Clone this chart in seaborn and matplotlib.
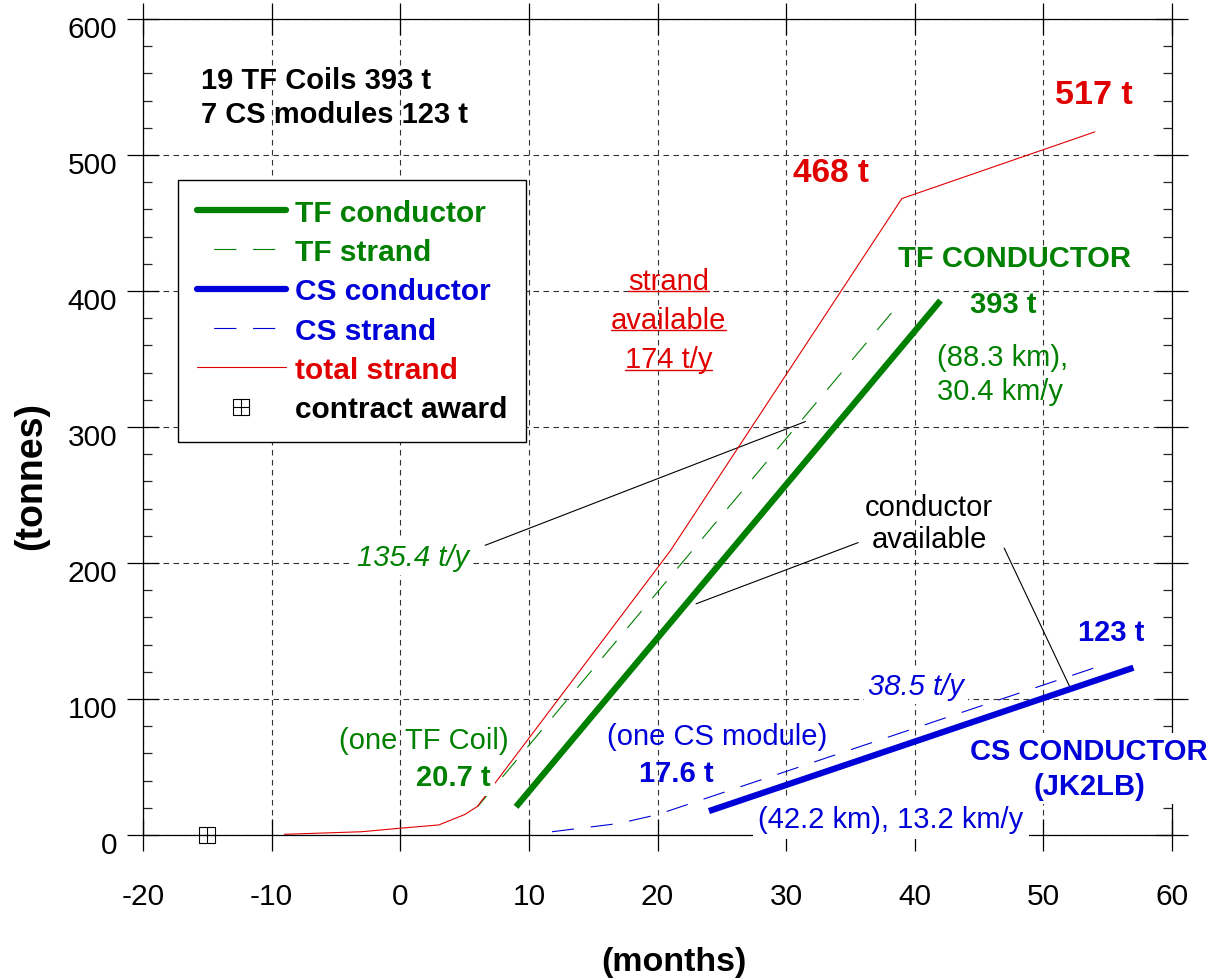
import numpy as np
import pandas as pd
import matplotlib
matplotlib.use("Agg")
import matplotlib.pyplot as plt
import matplotlib.transforms as mtransforms
from matplotlib.path import Path
from matplotlib.lines import Line2D
from matplotlib.ticker import MultipleLocator
import seaborn as sns

# ---------------- data ----------------
tf_conductor_months = [9, 42]
tf_conductor_tonnes = [20.7, 393]

tf_strand_months = [6, 39]
tf_strand_tonnes = [20.7, 393]

cs_conductor_months = [24, 57]
cs_conductor_tonnes = [17.6, 123]

cs_strand_months = [11.8, 17, 20, 54]
cs_strand_tonnes = [2.4, 8.5, 15, 123]

total_strand_months = [-9, -3, 0, 3, 5, 6, 21, 39, 54]
total_strand_tonnes = [0.5, 2.4, 5, 7.4, 15, 21, 209, 468, 517]

contract_award_months = [-15]
contract_award_tonnes = [0]

x_ticks = [-20, -10, 0, 10, 20, 30, 40, 50, 60]
y_ticks = [0, 100, 200, 300, 400, 500, 600]

series_labels = ["TF conductor", "TF strand", "CS conductor", "CS strand",
                 "total strand", "contract award"]

# leader lines of the annotations (text end -> pointed place)
leader_from = [(6.6, 213), (23.0, 170), (46.95, 211)]
leader_to = [(31.5, 304), (35.6, 215), (52.1, 108)]

# ---------------- style ----------------
GREEN = "#008000"
BLUE = "#0000d8"
RED = "#e00000"

sns.set_style("white")
plt.rcParams["font.family"] = ["Liberation Sans", "DejaVu Sans"]
plt.rcParams["axes.linewidth"] = 0.9
plt.rcParams["axes.unicode_minus"] = False

fig = plt.figure(figsize=(12.16, 9.79), dpi=100)
ax = fig.add_axes([143 / 1216, 1 - 836 / 979, (1172 - 143) / 1216, (836 - 20) / 979])

plot_dash = (0, (20, 15))
legend_dash = (20, (20, 15))
thick = 4.5
thin = 0.8

df_tfc = pd.DataFrame({"m": tf_conductor_months, "t": tf_conductor_tonnes})
df_tfs = pd.DataFrame({"m": tf_strand_months, "t": tf_strand_tonnes})
df_csc = pd.DataFrame({"m": cs_conductor_months, "t": cs_conductor_tonnes})
df_css = pd.DataFrame({"m": cs_strand_months, "t": cs_strand_tonnes})
df_tot = pd.DataFrame({"m": total_strand_months, "t": total_strand_tonnes})

sns.lineplot(data=df_tfs, x="m", y="t", ax=ax, color=GREEN, linewidth=thin,
             linestyle=plot_dash, sort=False, zorder=2.2)
sns.lineplot(data=df_css, x="m", y="t", ax=ax, color=BLUE, linewidth=thin,
             linestyle=plot_dash, sort=False, zorder=2.2)
sns.lineplot(data=df_tot, x="m", y="t", ax=ax, color=RED, linewidth=thin,
             sort=False, zorder=2.3)
sns.lineplot(data=df_tfc, x="m", y="t", ax=ax, color=GREEN, linewidth=thick,
             sort=False, zorder=2.4, solid_capstyle="butt")
sns.lineplot(data=df_csc, x="m", y="t", ax=ax, color=BLUE, linewidth=thick,
             sort=False, zorder=2.4, solid_capstyle="butt")

# box-plus marker glyph
boxplus = Path(
    [(-1, -1), (1, -1), (1, 1), (-1, 1), (-1, -1),
     (0, -1), (0, 1), (-1, 0), (1, 0)],
    [Path.MOVETO, Path.LINETO, Path.LINETO, Path.LINETO, Path.CLOSEPOLY,
     Path.MOVETO, Path.LINETO, Path.MOVETO, Path.LINETO])
ax.plot(contract_award_months, contract_award_tonnes, linestyle="none",
        marker=boxplus, markersize=11, markerfacecolor="none",
        markeredgecolor="black", markeredgewidth=0.8, zorder=2.5, clip_on=False)

# ---------------- axes ----------------
ax.set_xlim(-20, 60)
ax.set_ylim(0, 600)
ax.set_xticks(x_ticks)
ax.set_yticks(y_ticks)
ax.yaxis.set_minor_locator(MultipleLocator(20))
for s in ax.spines.values():
    s.set_visible(True)
    s.set_color("black")
    s.set_linewidth(0.9)
ax.set_axisbelow(True)
ax.grid(True, which="major", color="#333333", linestyle=(0, (5, 4)), linewidth=0.8)
ax.tick_params(which="major", direction="inout", length=23, width=0.9,
               top=True, right=True, bottom=True, left=True, labelsize=21.5,
               colors="black")
ax.tick_params(axis="x", which="major", pad=22)
ax.tick_params(axis="y", which="major", pad=7)
ax.tick_params(axis="y", which="minor", direction="in", length=6.5, width=0.9,
               left=True, right=True)
ax.tick_params(axis="x", which="minor", bottom=False, top=False)

offset = mtransforms.ScaledTranslation(0, -5 / 72, fig.dpi_scale_trans)
for lab in ax.get_yticklabels():
    lab.set_transform(lab.get_transform() + offset)

ax.set_xlabel("(months)", fontsize=24.5, fontweight="bold", color="black")
ax.set_ylabel("(tonnes)", fontsize=27, fontweight="bold", color="black")
ax.xaxis.label.set_va("center")
ax.yaxis.label.set_va("center")
ax.xaxis.set_label_coords((674 - 143) / 1029, (836 - 963) / 816)
ax.yaxis.set_label_coords((31 - 143) / 1029, (836 - 476) / 816)

# ---------------- legend ----------------
handles = [
    Line2D([], [], color=GREEN, linewidth=thick),
    Line2D([], [], color=GREEN, linewidth=thin, linestyle=legend_dash),
    Line2D([], [], color=BLUE, linewidth=thick),
    Line2D([], [], color=BLUE, linewidth=thin, linestyle=legend_dash),
    Line2D([], [], color=RED, linewidth=thin),
    Line2D([], [], linestyle="none", marker=boxplus, markersize=11,
           markerfacecolor="none", markeredgecolor="black", markeredgewidth=0.8),
]
leg = ax.legend(handles, series_labels, loc="upper left",
                bbox_to_anchor=((178 - 143) / 1029, (836 - 181) / 816),
                borderaxespad=0, frameon=True, fancybox=False, framealpha=1,
                edgecolor="black", facecolor="white",
                prop={"size": 21.5, "weight": "bold"}, handlelength=3.0,
                handletextpad=0.3, labelspacing=0.38, borderpad=0.62)
leg.get_frame().set_linewidth(1.0)
leg.set_zorder(5)
for txt, col in zip(leg.get_texts(), [GREEN, GREEN, BLUE, BLUE, RED, "black"]):
    txt.set_color(col)

# ---------------- annotations ----------------
wbox = dict(facecolor="white", edgecolor="none", pad=3)

ax.text(-15.5, 542.6, "19 TF Coils 393 t\n7 CS modules 123 t", fontsize=21,
        fontweight="bold", ha="left", va="center", color="black", linespacing=1.25)
ax.text(33.5, 487.5, "468 t", fontsize=24, fontweight="bold", color=RED,
        ha="center", va="center")
ax.text(53.96, 544.2, "517 t", fontsize=24.5, fontweight="bold", color=RED,
        ha="center", va="center")
ax.text(47.75, 423.9, "TF CONDUCTOR", fontsize=21, fontweight="bold",
        color=GREEN, ha="center", va="center")
ax.text(46.88, 390.1, "393 t", fontsize=21, fontweight="bold", color=GREEN,
        ha="center", va="center")
ax.text(41.72, 339, "(88.3 km),\n30.4 km/y", fontsize=21, color=GREEN,
        ha="left", va="center", linespacing=1.25)

strand_texts = []
for s, yy in zip(["strand", "available", "174 t/y"], [407.4, 378.7, 350.0]):
    strand_texts.append(ax.text(20.84, yy, s, fontsize=21, color=RED,
                                ha="center", va="center"))

ax.text(41.13, 229.4, "conductor\navailable", fontsize=21, color="black",
        ha="center", va="center", linespacing=1.2)
ax.text(0.97, 204.4, "135.4 t/y", fontsize=21, style="italic", color=GREEN,
        ha="center", va="center", bbox=wbox, zorder=4)
ax.text(40.1, 109.8, "38.5 t/y", fontsize=21, style="italic", color=BLUE,
        ha="center", va="center", bbox=wbox, zorder=4)
ax.text(1.82, 69.9, "(one TF Coil)", fontsize=21, color=GREEN,
        ha="center", va="center")
ax.text(4.16, 42.3, "20.7 t", fontsize=21, fontweight="bold", color=GREEN,
        ha="center", va="center", bbox=wbox, zorder=4)
ax.text(24.6, 73, "(one CS module)", fontsize=21, color=BLUE,
        ha="center", va="center")
ax.text(21.5, 45.5, "17.6 t", fontsize=21, fontweight="bold", color=BLUE,
        ha="center", va="center")
ax.text(38.13, 11.5, "(42.2 km), 13.2 km/y", fontsize=21, color=BLUE,
        ha="center", va="center", bbox=dict(facecolor="white", edgecolor="none", pad=4),
        zorder=4)
ax.text(55.3, 149.3, "123 t", fontsize=21, fontweight="bold", color=BLUE,
        ha="center", va="center")
ax.text(53.57, 48.9, "CS CONDUCTOR\n(JK2LB)", fontsize=21, fontweight="bold",
        color=BLUE, ha="center", va="center", linespacing=1.35, bbox=wbox,
        zorder=4)

for (x0, y0), (x1, y1) in zip(leader_from, leader_to):
    ax.annotate("", xy=(x1, y1), xytext=(x0, y0),
                arrowprops=dict(arrowstyle="-", color="black", lw=0.8,
                                shrinkA=0, shrinkB=0), zorder=2.1)

# underline the "strand available" text
fig.canvas.draw()
renderer = fig.canvas.get_renderer()
for t in strand_texts:
    bb = t.get_window_extent(renderer)
    yline = bb.y0 + 3.5
    fig.add_artist(Line2D([bb.x0, bb.x1], [yline, yline], color=RED,
                          linewidth=1.0, transform=mtransforms.IdentityTransform()))

fig.savefig("out.png", dpi=100)
